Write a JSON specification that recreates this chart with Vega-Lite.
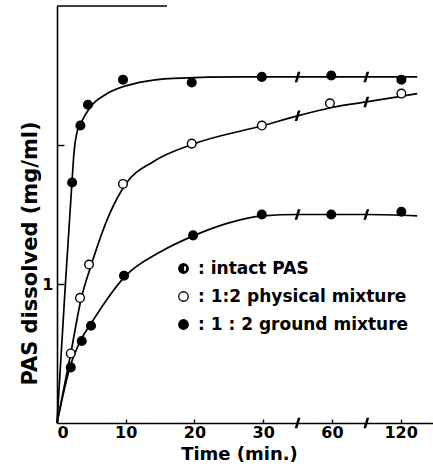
{
  "$schema": "https://vega.github.io/schema/vega-lite/v6.json",
  "width": 376,
  "height": 417,
  "autosize": {"type": "none"},
  "padding": {"left": 57, "top": 6, "right": 0, "bottom": 46},
  "background": "white",
  "config": {
    "view": {"stroke": null},
    "axis": {
      "grid": false,
      "domainColor": "black",
      "domainWidth": 1.6,
      "tickColor": "black",
      "tickWidth": 1.4,
      "labelColor": "black",
      "labelFont": "DejaVu Sans",
      "labelFontWeight": "bold",
      "titleColor": "black",
      "titleFont": "DejaVu Sans",
      "titleFontWeight": "bold"
    },
    "legend": {
      "labelFont": "DejaVu Sans",
      "labelFontWeight": "bold",
      "labelColor": "black"
    }
  },
  "datasets": {
    "curves": [
      {"series": "intact PAS", "p": 0, "v": 0},
      {"series": "intact PAS", "p": 1.1, "v": 0.9},
      {"series": "intact PAS", "p": 2.2, "v": 1.75},
      {"series": "intact PAS", "p": 2.5, "v": 1.96},
      {"series": "intact PAS", "p": 2.9, "v": 2.09},
      {"series": "intact PAS", "p": 3.5, "v": 2.16},
      {"series": "intact PAS", "p": 4.8, "v": 2.27},
      {"series": "intact PAS", "p": 7.3, "v": 2.37},
      {"series": "intact PAS", "p": 12, "v": 2.45},
      {"series": "intact PAS", "p": 17, "v": 2.48},
      {"series": "intact PAS", "p": 27, "v": 2.49},
      {"series": "intact PAS", "p": 52.4, "v": 2.49},
      {"series": "1:2 physical mixture", "p": 0, "v": 0},
      {"series": "1:2 physical mixture", "p": 2, "v": 0.5},
      {"series": "1:2 physical mixture", "p": 3.5, "v": 0.89},
      {"series": "1:2 physical mixture", "p": 5, "v": 1.14},
      {"series": "1:2 physical mixture", "p": 7.7, "v": 1.51},
      {"series": "1:2 physical mixture", "p": 10, "v": 1.72},
      {"series": "1:2 physical mixture", "p": 14, "v": 1.88},
      {"series": "1:2 physical mixture", "p": 20, "v": 2.01},
      {"series": "1:2 physical mixture", "p": 30, "v": 2.14},
      {"series": "1:2 physical mixture", "p": 35, "v": 2.21},
      {"series": "1:2 physical mixture", "p": 40, "v": 2.27},
      {"series": "1:2 physical mixture", "p": 45, "v": 2.31},
      {"series": "1:2 physical mixture", "p": 50, "v": 2.35},
      {"series": "1:2 physical mixture", "p": 52.4, "v": 2.37},
      {"series": "1 : 2 ground mixture", "p": 0, "v": 0},
      {"series": "1 : 2 ground mixture", "p": 2, "v": 0.42},
      {"series": "1 : 2 ground mixture", "p": 3.5, "v": 0.6},
      {"series": "1 : 2 ground mixture", "p": 5, "v": 0.72},
      {"series": "1 : 2 ground mixture", "p": 10, "v": 1.06},
      {"series": "1 : 2 ground mixture", "p": 15, "v": 1.23},
      {"series": "1 : 2 ground mixture", "p": 20, "v": 1.35},
      {"series": "1 : 2 ground mixture", "p": 25, "v": 1.44},
      {"series": "1 : 2 ground mixture", "p": 30, "v": 1.49},
      {"series": "1 : 2 ground mixture", "p": 35, "v": 1.5},
      {"series": "1 : 2 ground mixture", "p": 45, "v": 1.5},
      {"series": "1 : 2 ground mixture", "p": 52.4, "v": 1.49}
    ],
    "points": [
      {"series": "intact PAS", "t": 2, "p": 2.2, "v": 1.73},
      {"series": "intact PAS", "t": 3.5, "p": 3.4, "v": 2.14},
      {"series": "intact PAS", "t": 5, "p": 4.5, "v": 2.29},
      {"series": "intact PAS", "t": 10, "p": 9.6, "v": 2.47},
      {"series": "intact PAS", "t": 20, "p": 19.6, "v": 2.45},
      {"series": "intact PAS", "t": 30, "p": 29.8, "v": 2.49},
      {"series": "intact PAS", "t": 60, "p": 39.9, "v": 2.5},
      {"series": "intact PAS", "t": 120, "p": 50.1, "v": 2.47},
      {"series": "1:2 physical mixture", "t": 2, "p": 2.0, "v": 0.5},
      {"series": "1:2 physical mixture", "t": 3.5, "p": 3.35, "v": 0.9},
      {"series": "1:2 physical mixture", "t": 5, "p": 4.66, "v": 1.14},
      {"series": "1:2 physical mixture", "t": 10, "p": 9.6, "v": 1.72},
      {"series": "1:2 physical mixture", "t": 20, "p": 19.6, "v": 2.01},
      {"series": "1:2 physical mixture", "t": 30, "p": 29.8, "v": 2.14},
      {"series": "1:2 physical mixture", "t": 60, "p": 39.7, "v": 2.3},
      {"series": "1:2 physical mixture", "t": 120, "p": 50.1, "v": 2.37},
      {"series": "1 : 2 ground mixture", "t": 2, "p": 2.0, "v": 0.4},
      {"series": "1 : 2 ground mixture", "t": 3.5, "p": 3.6, "v": 0.59},
      {"series": "1 : 2 ground mixture", "t": 5, "p": 4.95, "v": 0.7},
      {"series": "1 : 2 ground mixture", "t": 10, "p": 9.75, "v": 1.06},
      {"series": "1 : 2 ground mixture", "t": 20, "p": 19.8, "v": 1.35},
      {"series": "1 : 2 ground mixture", "t": 30, "p": 29.8, "v": 1.5},
      {"series": "1 : 2 ground mixture", "t": 60, "p": 39.9, "v": 1.5},
      {"series": "1 : 2 ground mixture", "t": 120, "p": 50.1, "v": 1.52}
    ],
    "breaks": [
      {"p": 35, "v": 0},
      {"p": 45, "v": 0},
      {"p": 35, "v": 2.49},
      {"p": 45, "v": 2.49},
      {"p": 35, "v": 2.21},
      {"p": 45, "v": 2.31},
      {"p": 35, "v": 1.5},
      {"p": 45, "v": 1.5}
    ],
    "frame": [
      {"p": 0, "v": 3},
      {"p": 16, "v": 3}
    ]
  },
  "encoding": {
    "x": {
      "field": "p",
      "type": "quantitative",
      "scale": {"domain": [0, 54.7], "nice": false, "zero": false},
      "axis": {
        "values": [0, 10, 20, 30, 40, 50],
        "labelExpr": "datum.value == 40 ? '60' : datum.value == 50 ? '120' : datum.label",
        "tickSize": -4,
        "labelPadding": 5,
        "labelFontSize": 16,
        "title": "Time (min.)",
        "titleFontSize": 18,
        "titleX": 182,
        "titleY": 31,
        "titleBaseline": "middle",
        "titleAlign": "center"
      }
    },
    "y": {
      "field": "v",
      "type": "quantitative",
      "scale": {"domain": [0, 3], "nice": false},
      "axis": {
        "values": [1, 2],
        "labelExpr": "datum.value == 1 ? '1' : ''",
        "tickSize": -7,
        "labelPadding": 11,
        "labelFontSize": 16,
        "title": "PAS dissolved (mg/ml)",
        "titleFontSize": 21,
        "titleAngle": 270,
        "titleX": -27,
        "titleY": 247,
        "titleBaseline": "middle",
        "titleAlign": "center"
      }
    }
  },
  "layer": [
    {
      "data": {"name": "curves"},
      "mark": {"type": "line", "interpolate": "monotone", "color": "black", "strokeWidth": 1.7},
      "encoding": {"detail": {"field": "series"}}
    },
    {
      "data": {"name": "frame"},
      "mark": {"type": "line", "color": "black", "strokeWidth": 1.6},
      "encoding": {}
    },
    {
      "data": {"name": "points"},
      "mark": {"type": "point", "filled": false, "stroke": "black", "strokeWidth": 1.4, "opacity": 1, "size": 75},
      "encoding": {
        "shape": {
          "field": "series",
          "type": "nominal",
          "scale": {
            "domain": ["intact PAS", "1:2 physical mixture", "1 : 2 ground mixture"],
            "range": ["M0,-1 A1,1 0 0,0 0,1 Z M0,-1 A1,1 0 0,1 0,1 L0,0.7 A0.7,0.7 0 0,0 0,-0.7 Z", "circle", "circle"]
          },
          "legend": {
            "title": null,
            "orient": "none",
            "legendX": 118,
            "legendY": 254,
            "padding": 0,
            "labelExpr": "': ' + datum.label",
            "labelFontSize": 17,
            "labelOffset": 6,
            "symbolSize": 90,
            "symbolStrokeWidth": 1.3,
            "rowPadding": 10,
            "labelLimit": 400
          }
        },
        "fill": {
          "field": "series",
          "type": "nominal",
          "scale": {
            "domain": ["intact PAS", "1:2 physical mixture", "1 : 2 ground mixture"],
            "range": ["black", "white", "black"]
          },
          "legend": {
            "title": null,
            "orient": "none",
            "legendX": 118,
            "legendY": 254,
            "padding": 0,
            "labelExpr": "': ' + datum.label",
            "labelFontSize": 17,
            "labelOffset": 6,
            "symbolSize": 90,
            "symbolStrokeWidth": 1.3,
            "rowPadding": 10,
            "labelLimit": 400
          }
        }
      }
    },
    {
      "data": {"name": "points"},
      "transform": [{"filter": "datum.series == 'intact PAS'"}],
      "mark": {"type": "point", "shape": "circle", "filled": true, "color": "black", "opacity": 1, "size": 75},
      "encoding": {}
    },
    {
      "data": {"name": "breaks"},
      "mark": {"type": "point", "shape": "M-0.55,1 L0.05,-1 L0.55,-1 L-0.05,1 Z", "filled": true, "color": "black", "opacity": 1, "size": 110},
      "encoding": {}
    }
  ]
}
